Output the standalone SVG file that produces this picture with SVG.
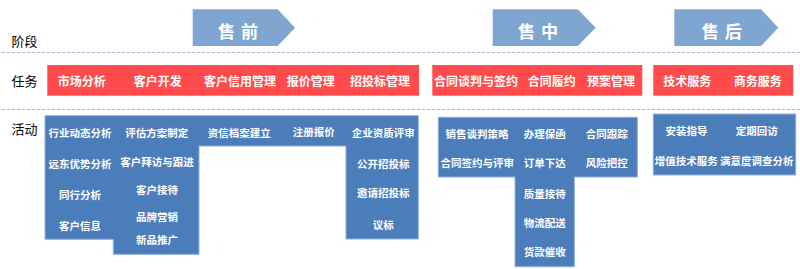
<svg xmlns="http://www.w3.org/2000/svg" width="800" height="269" viewBox="0 0 800 269">
<style>
text{font-family:"Noto Sans CJK SC","Noto Sans",sans-serif;dominant-baseline:central;text-anchor:middle}
.lbl{font-size:13px;fill:#000;text-anchor:start}
.phase{fill:#7fa6d1}
.ptx{font-size:17px;font-weight:bold;fill:#fff;letter-spacing:6px}
.task{fill:#ff4b4b}
.ttx{font-size:12px;font-weight:bold;fill:#fff}
.act{fill:#4b7dbb;stroke:#8fb0d8;stroke-width:1}
.atx{font-size:10.5px;font-weight:bold;fill:#fff}
.dash{stroke:#9fb6d8;stroke-width:1.2;stroke-dasharray:3 2;fill:none}
</style>
<g id="axis">
<line class="dash" x1="2" y1="52.5" x2="800" y2="52.5"/>
<line class="dash" x1="2" y1="109.5" x2="800" y2="109.5"/>
<text class="lbl" x="11.5" y="40">阶段</text>
<text class="lbl" x="11.5" y="80.5">任务</text>
<text class="lbl" x="11.5" y="128">活动</text>
</g>
<g id="phase-pre">
<polygon class="phase" points="192.7,9.3 277.7,9.3 295,27.7 277.7,46 192.7,46"/>
<text class="ptx" x="241" y="30">售前</text>
</g>
<g id="phase-mid">
<polygon class="phase" points="492.7,9.3 577.7,9.3 595.7,27.7 577.7,46 492.7,46"/>
<text class="ptx" x="541" y="30">售中</text>
</g>
<g id="phase-post">
<polygon class="phase" points="674.3,9.3 761,9.3 778.3,27.7 761,46 674.3,46"/>
<text class="ptx" x="724.7" y="30">售后</text>
</g>
<g id="task-pre">
<rect class="task" x="47.3" y="65" width="371.7" height="30.7"/>
<text class="ttx" x="81.7" y="80.7">市场分析</text>
<text class="ttx" x="157.7" y="80.7">客户开发</text>
<text class="ttx" x="240" y="80.7">客户信用管理</text>
<text class="ttx" x="310.7" y="80.7">报价管理</text>
<text class="ttx" x="380" y="80.7">招投标管理</text>
</g>
<g id="task-mid">
<rect class="task" x="432.3" y="65" width="210" height="30.7"/>
<text class="ttx" x="476" y="80.7">合同谈判与签约</text>
<text class="ttx" x="551.7" y="80.7">合同履约</text>
<text class="ttx" x="611" y="80.7">预案管理</text>
</g>
<g id="task-post">
<rect class="task" x="653.3" y="65" width="140" height="30.7"/>
<text class="ttx" x="687.3" y="80.7">技术服务</text>
<text class="ttx" x="757.7" y="80.7">商务服务</text>
</g>
<g id="act-pre">
<path class="act" d="M45,115.7 H418.3 V239 H346 V146 H199 V254.3 H113.3 V239.3 H45 Z"/>
<text class="atx" x="80" y="132.7">行业动态分析</text>
<text class="atx" x="80" y="163.3">远东优势分析</text>
<text class="atx" x="80" y="194">同行分析</text>
<text class="atx" x="80" y="225">客户信息</text>
<text class="atx" x="156.7" y="132.7">评估方案制定</text>
<text class="atx" x="157" y="161">客户拜访与跟进</text>
<text class="atx" x="157" y="189">客户接待</text>
<text class="atx" x="157" y="216.7">品牌营销</text>
<text class="atx" x="157" y="239.3">新品推广</text>
<text class="atx" x="239.2" y="132.7">资信档案建立</text>
<text class="atx" x="313.7" y="131.7">注册报价</text>
<text class="atx" x="383.3" y="132.7">企业资质评审</text>
<text class="atx" x="383.3" y="163.3">公开招投标</text>
<text class="atx" x="383.3" y="192.3">邀请招投标</text>
<text class="atx" x="383.3" y="224">议标</text>
</g>
<g id="act-mid">
<path class="act" d="M438.3,117.3 H637.3 V177 H574.3 V266.7 H515 V177 H438.3 Z"/>
<text class="atx" x="477" y="133.3">销售谈判策略</text>
<text class="atx" x="477.2" y="162.3">合同签约与评审</text>
<text class="atx" x="544.8" y="133.3">办理保函</text>
<text class="atx" x="544.8" y="162.3">订单下达</text>
<text class="atx" x="544.8" y="193.3">质量接待</text>
<text class="atx" x="544.8" y="222.7">物流配送</text>
<text class="atx" x="544.8" y="251.7">货款催收</text>
<text class="atx" x="606.7" y="133.3">合同跟踪</text>
<text class="atx" x="606.7" y="162.3">风险把控</text>
</g>
<g id="act-post">
<rect class="act" x="653.3" y="114" width="142.4" height="61"/>
<text class="atx" x="686.5" y="130.7">安装指导</text>
<text class="atx" x="756.8" y="130.7">定期回访</text>
<text class="atx" x="686.3" y="160.7">增值技术服务</text>
<text class="atx" x="756.8" y="160.7">满意度调查分析</text>
</g>
<g id="connectors"></g>
</svg>
